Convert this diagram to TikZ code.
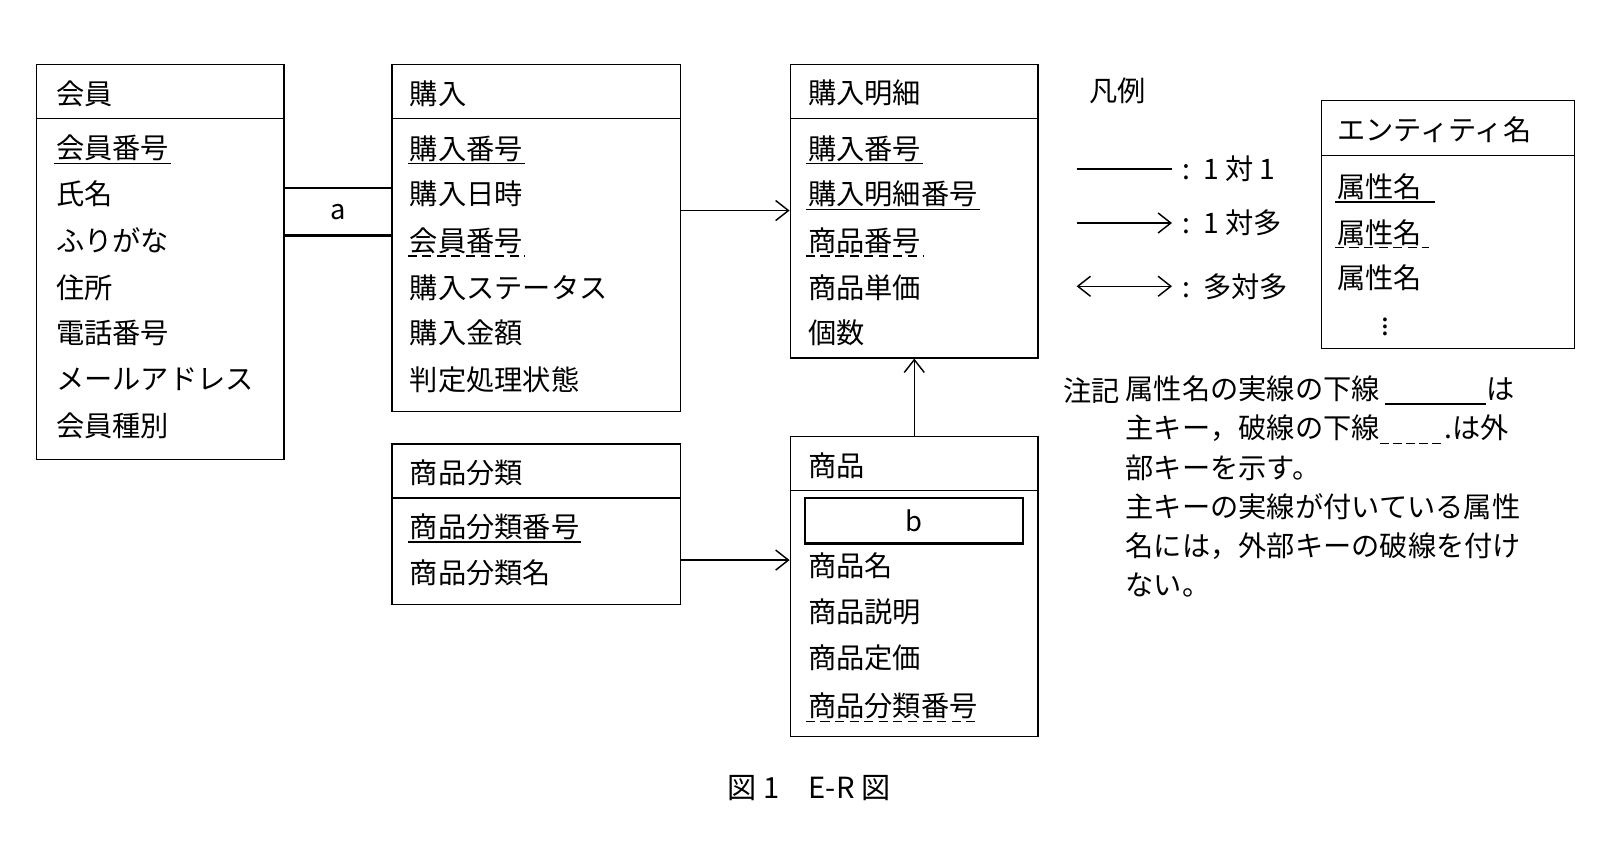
\documentclass[tikz,border=0pt]{standalone}
\usepackage{fontspec}
\setmainfont{Noto Sans CJK JP}
\usetikzlibrary{arrows.meta,positioning,fit}

% an entity box: name, left, top, right, bottom, divider
\newcommand{\entbox}[6]{%
  \path (#2,#3) coordinate (#1nw) (#4,#5) coordinate (#1se);
  \node[ent, fit=(#1nw)(#1se)] (#1) {};
  \draw[thick] (#2,#6) -- (#4,#6);
}
\newcommand{\dashseg}{\rule[-3pt]{0.32em}{0.8pt}\hspace{0.14em}}

\begin{document}
\begin{tikzpicture}[
x=0.02cm,y=-0.02cm,
ent/.style={
  draw,
  thick,
  inner sep=0pt
},
attr/.style={
  anchor=west,
  inner xsep=1pt,
  inner ysep=1pt,
  font=\fontsize{15.5}{18}\selectfont
},
pk/.style={thick},
fk/.style={thick,dash pattern=on 5pt off 3pt},
tip/.style={Straight Barb[length=7pt,width=11pt]},
rel/.style={thick,-{Straight Barb[length=7pt,width=11pt]}}
]
\useasboundingbox (0,0) rectangle (1560,812);

% 会員
\entbox{kaiin}{35}{62}{274}{443}{114}
\node[attr] (kaiinT) at (52,90) {会員};
\node[attr] (kaiin1) at (52,143) {会員番号};
\node[attr] (kaiin2) at (52,187) {氏名};
\node[attr] (kaiin3) at (52,232) {ふりがな};
\node[attr] (kaiin4) at (52,277) {住所};
\node[attr] (kaiin5) at (52,321) {電話番号};
\node[attr] (kaiin6) at (52,366) {メールアドレス};
\node[attr] (kaiin7) at (52,411) {会員種別};
\draw[pk] (kaiin1.south west) -- (kaiin1.south east);

% 購入
\entbox{kounyu}{378}{62}{656}{397}{114}
\node[attr] (kounyuT) at (393,90) {購入};
\node[attr] (kounyu1) at (393,143) {購入番号};
\node[attr] (kounyu2) at (393,187) {購入日時};
\node[attr] (kounyu3) at (393,232) {会員番号};
\node[attr] (kounyu4) at (393,277) {購入ステータス};
\node[attr] (kounyu5) at (393,321) {購入金額};
\node[attr] (kounyu6) at (393,366) {判定処理状態};
\draw[pk] (kounyu1.south west) -- (kounyu1.south east);
\draw[fk] (kounyu3.south west) -- (kounyu3.south east);

% a
\node[ent, very thick, minimum width=104*0.02cm, minimum height=46*0.02cm,
  font=\fontsize{15}{18}\selectfont] (a) at (326,204) {a};

% 購入明細
\entbox{meisai}{762}{62}{1001}{345}{114}
\node[attr] (meisaiT) at (777,90) {購入明細};
\node[attr] (meisai1) at (777,143) {購入番号};
\node[attr] (meisai2) at (777,187) {購入明細番号};
\node[attr] (meisai3) at (777,232) {商品番号};
\node[attr] (meisai4) at (777,277) {商品単価};
\node[attr] (meisai5) at (777,321) {個数};
\draw[pk] (meisai1.south west) -- (meisai1.south east);
\draw[pk] (meisai2.south west) -- (meisai2.south east);
\draw[fk] (meisai3.south west) -- (meisai3.south east);

% 商品分類
\entbox{bunrui}{378}{428}{656}{583}{480}
\node[attr] (bunruiT) at (393,456) {商品分類};
\node[attr] (bunrui1) at (393,508) {商品分類番号};
\node[attr] (bunrui2) at (393,552) {商品分類名};
\draw[pk] (bunrui1.south west) -- (bunrui1.south east);

% 商品
\entbox{shohin}{762}{421}{1001}{710}{473}
\node[attr] (shohinT) at (777,449) {商品};
\node[ent, very thick, minimum width=210*0.02cm, minimum height=44*0.02cm,
  font=\fontsize{15}{18}\selectfont] (b) at (881,502) {b};
\node[attr] (shohin1) at (777,545) {商品名};
\node[attr] (shohin2) at (777,590) {商品説明};
\node[attr] (shohin3) at (777,634) {商品定価};
\node[attr] (shohin4) at (777,681) {商品分類番号};
\draw[fk] (shohin4.south west) -- (shohin4.south east);

% 関連
\draw[rel] (kounyu.east|-0,203) -- (meisai.west|-0,203);
\draw[rel] (bunrui.east|-0,540) -- (shohin.west|-0,540);
\draw[rel] (shohin.north) -- (meisai.south);

% 凡例
\node[attr] (hanrei) at (1048,88) {凡例};
\coordinate (l1a) at (1038,163); \coordinate (l1b) at (1130,163);
\coordinate (l2a) at (1038,215); \coordinate (l2b) at (1130,215);
\coordinate (l3a) at (1038,276); \coordinate (l3b) at (1130,276);
\draw[thick] (l1a) -- (l1b);
\draw[rel] (l2a) -- (l2b);
\draw[thick,{Straight Barb[length=7pt,width=11pt]}-{Straight Barb[length=7pt,width=11pt]}] (l3a) -- (l3b);
\node[attr] (leg1) at (1138,163) {:\ \ 1 対 1};
\node[attr] (leg2) at (1138,215) {:\ \ 1 対多};
\node[attr] (leg3) at (1138,276) {:\ \ 多対多};

\entbox{legbox}{1274}{97}{1518}{336}{150}
\node[attr] (legT) at (1287,125) {エンティティ名};
\node[attr] (leg4) at (1287,180) {属性名};
\node[attr] (leg5) at (1287,224) {属性名};
\node[attr] (leg6) at (1287,268) {属性名};
\node[attr] (leg7) at (1330,310) {$\vdots$};
\draw[pk] (leg4.south west) -- ([xshift=6pt]leg4.south east);
\draw[fk] (leg5.south west) -- ([xshift=3pt]leg5.south east);

% 注記
\node[attr] (chuki) at (1023,377) {注記};
\node[attr, anchor=north west, align=left, inner sep=0pt,
  font=\fontsize{15.5}{20}\selectfont] (note) at (1085,362)
  {属性名の実線の下線\,\rule[-3pt]{3.6em}{0.9pt}は\\[1.5pt]
   主キー，破線の下線\dashseg\dashseg\dashseg\dashseg\dashseg.は外\\[1.5pt]
   部キーを示す。\\[1.5pt]
   主キーの実線が付いている属性\\[1.5pt]
   名には，外部キーの破線を付け\\[1.5pt]
   ない。};

% 図
\node[font=\fontsize{16}{19}\selectfont] (caption) at (780,760) {図 1\quad E-R 図};
\end{tikzpicture}
\end{document}
